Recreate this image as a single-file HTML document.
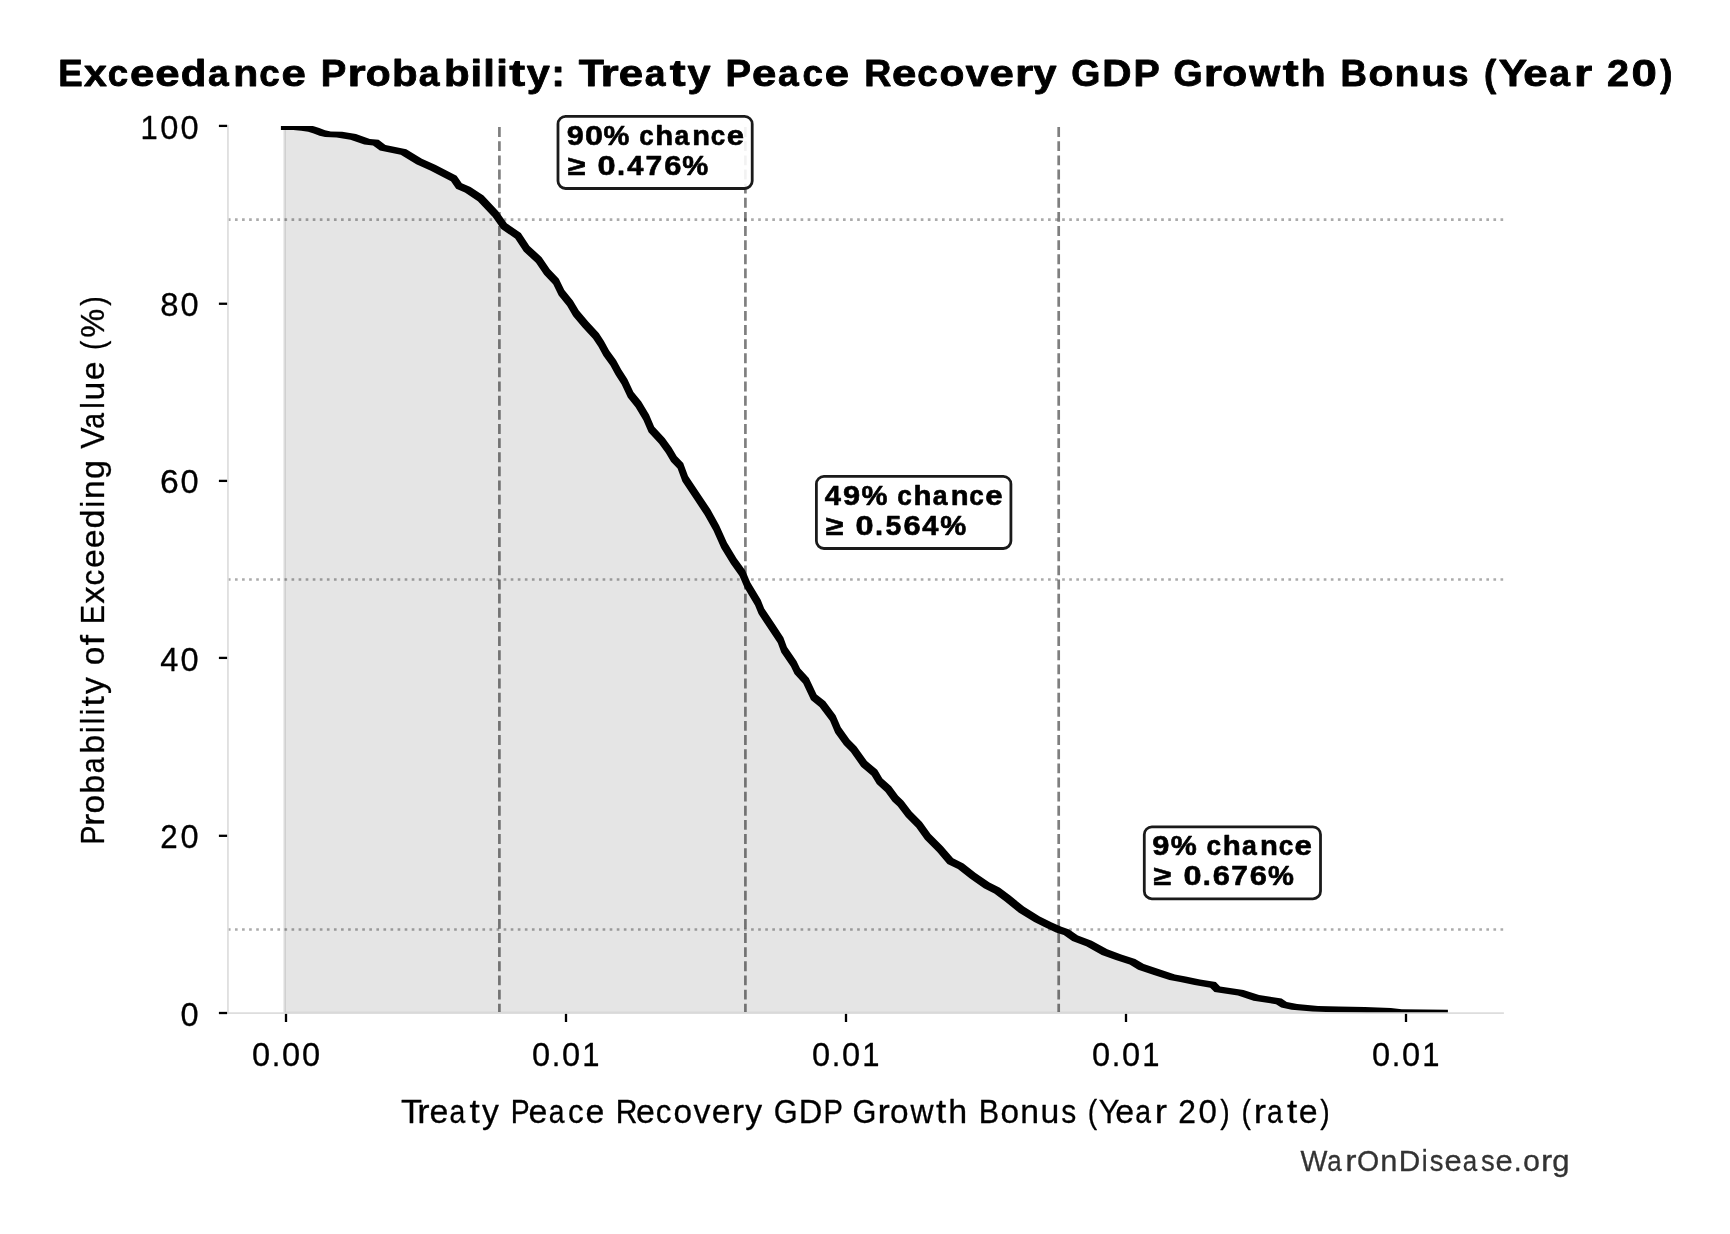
<!DOCTYPE html>
<html lang="en">
<head>
<meta charset="utf-8">
<title>Exceedance Probability: Treaty Peace Recovery GDP Growth Bonus (Year 20)</title>
<style>
html,body{margin:0;padding:0;background:#fff;}
body{width:1730px;height:1234px;overflow:hidden;}
svg{display:block;will-change:transform;}
text{font-family:"Liberation Sans",sans-serif;}
</style>
</head>
<body>
<svg width="1730" height="1234" viewBox="0 0 1730 1234">
<rect x="0" y="0" width="1730" height="1234" fill="#ffffff"/>
<defs><clipPath id="ax"><rect x="227" y="126.0" width="1277" height="887.1"/></clipPath></defs>

<g clip-path="url(#ax)">
<path d="M284.6,1013.1 L284.6,127.1 L304.0,127.9 L311.0,129.0 L316.5,130.8 L322.3,133.0 L327.9,134.3 L339.4,134.6 L353.2,136.9 L367.1,141.7 L375.8,142.6 L382.7,147.8 L403.5,152.0 L419.1,161.5 L433.0,167.7 L453.8,178.5 L459.0,186.0 L467.7,189.8 L480.7,198.4 L495.4,214.0 L504.1,226.2 L518.0,235.7 L526.6,248.7 L538.8,260.0 L547.0,272.0 L556.0,281.5 L561.5,292.7 L570.0,303.2 L576.0,313.4 L585.5,324.6 L595.9,335.9 L601.1,343.7 L606.3,353.2 L613.2,362.8 L618.4,372.3 L624.5,381.8 L630.6,394.8 L638.4,404.4 L646.2,417.4 L651.4,429.5 L661.8,440.8 L668.7,450.2 L673.9,459.0 L680.4,465.8 L685.2,478.8 L697.2,496.8 L707.6,512.4 L716.3,528.0 L724.1,545.4 L733.6,561.0 L742.3,573.1 L747.5,585.3 L757.9,602.6 L761.4,611.3 L771.8,626.9 L780.6,640.3 L784.1,649.8 L793.7,663.7 L797.3,671.2 L806.0,680.7 L813.8,697.2 L822.4,704.1 L832.8,718.0 L838.0,730.1 L846.7,742.2 L853.6,749.2 L864.0,763.9 L874.4,772.6 L879.6,781.3 L888.3,789.1 L895.3,798.6 L900.5,803.5 L908.7,814.3 L919.1,824.7 L927.7,836.8 L939.9,849.0 L950.3,861.1 L960.7,866.3 L972.8,875.8 L986.7,885.4 L997.1,890.6 L1007.5,898.4 L1021.4,909.6 L1037.0,919.2 L1049.1,925.3 L1058.7,929.6 L1066.5,932.2 L1075.1,938.3 L1089.0,943.5 L1104.6,952.1 L1118.5,957.3 L1132.4,961.7 L1141.0,966.9 L1156.6,972.1 L1172.2,977.3 L1183.0,979.3 L1197.3,982.3 L1213.0,984.9 L1217.3,989.2 L1240.7,992.7 L1256.3,997.9 L1278.8,1001.4 L1284.0,1004.8 L1294.4,1006.9 L1315.3,1008.7 L1336.0,1009.4 L1362.0,1009.9 L1388.0,1010.9 L1399.0,1012.0 L1445.1,1012.6 L1445.1,1013.1 Z" fill="#000" fill-opacity="0.1"/>
<path d="M284.6,1013.1 L284.6,127.1 L304.0,127.9 L311.0,129.0 L316.5,130.8 L322.3,133.0 L327.9,134.3 L339.4,134.6 L353.2,136.9 L367.1,141.7 L375.8,142.6 L382.7,147.8 L403.5,152.0 L419.1,161.5 L433.0,167.7 L453.8,178.5 L459.0,186.0 L467.7,189.8 L480.7,198.4 L495.4,214.0 L504.1,226.2 L518.0,235.7 L526.6,248.7 L538.8,260.0 L547.0,272.0 L556.0,281.5 L561.5,292.7 L570.0,303.2 L576.0,313.4 L585.5,324.6 L595.9,335.9 L601.1,343.7 L606.3,353.2 L613.2,362.8 L618.4,372.3 L624.5,381.8 L630.6,394.8 L638.4,404.4 L646.2,417.4 L651.4,429.5 L661.8,440.8 L668.7,450.2 L673.9,459.0 L680.4,465.8 L685.2,478.8 L697.2,496.8 L707.6,512.4 L716.3,528.0 L724.1,545.4 L733.6,561.0 L742.3,573.1 L747.5,585.3 L757.9,602.6 L761.4,611.3 L771.8,626.9 L780.6,640.3 L784.1,649.8 L793.7,663.7 L797.3,671.2 L806.0,680.7 L813.8,697.2 L822.4,704.1 L832.8,718.0 L838.0,730.1 L846.7,742.2 L853.6,749.2 L864.0,763.9 L874.4,772.6 L879.6,781.3 L888.3,789.1 L895.3,798.6 L900.5,803.5 L908.7,814.3 L919.1,824.7 L927.7,836.8 L939.9,849.0 L950.3,861.1 L960.7,866.3 L972.8,875.8 L986.7,885.4 L997.1,890.6 L1007.5,898.4 L1021.4,909.6 L1037.0,919.2 L1049.1,925.3 L1058.7,929.6 L1066.5,932.2 L1075.1,938.3 L1089.0,943.5 L1104.6,952.1 L1118.5,957.3 L1132.4,961.7 L1141.0,966.9 L1156.6,972.1 L1172.2,977.3 L1183.0,979.3 L1197.3,982.3 L1213.0,984.9 L1217.3,989.2 L1240.7,992.7 L1256.3,997.9 L1278.8,1001.4 L1284.0,1004.8 L1294.4,1006.9 L1315.3,1008.7 L1336.0,1009.4 L1362.0,1009.9 L1388.0,1010.9 L1399.0,1012.0 L1445.1,1012.6 L1445.1,1013.1 Z" fill="none" stroke="#000" stroke-opacity="0.1" stroke-width="2.6" stroke-linejoin="miter"/>
<line x1="227.9" y1="219.6" x2="1503.6" y2="219.6" stroke="#000" stroke-opacity="0.33" stroke-width="2.7" stroke-dasharray="2.67 4.40"/>
<line x1="227.9" y1="579.5" x2="1503.6" y2="579.5" stroke="#000" stroke-opacity="0.33" stroke-width="2.7" stroke-dasharray="2.67 4.40"/>
<line x1="227.9" y1="929.5" x2="1503.6" y2="929.5" stroke="#000" stroke-opacity="0.33" stroke-width="2.7" stroke-dasharray="2.67 4.40"/>
<line x1="499.4" y1="127.1" x2="499.4" y2="1011.9" stroke="#000" stroke-opacity="0.5" stroke-width="2.7" stroke-dasharray="9.87 4.27"/>
<line x1="745.4" y1="127.1" x2="745.4" y2="1011.9" stroke="#000" stroke-opacity="0.5" stroke-width="2.7" stroke-dasharray="9.87 4.27"/>
<line x1="1058.7" y1="127.1" x2="1058.7" y2="1011.9" stroke="#000" stroke-opacity="0.5" stroke-width="2.7" stroke-dasharray="9.87 4.27"/>
<path d="M280.9,124.3 L286.5,124.3 L298.8,124.3 L306.8,125.1 L313.8,126.2 L319.3,128.0 L325.1,130.2 L330.7,131.5 L342.2,131.8 L356.0,134.1 L369.9,138.9 L378.6,139.8 L385.5,145.0 L406.3,149.2 L421.9,158.7 L435.8,164.9 L456.6,175.7 L461.8,183.2 L470.5,187.0 L483.5,195.6 L498.2,211.2 L506.9,223.4 L520.8,232.9 L529.4,245.9 L541.6,257.2 L549.8,269.2 L558.8,278.7 L564.3,289.9 L572.8,300.4 L578.8,310.6 L588.3,321.8 L598.7,333.1 L603.9,340.9 L609.1,350.4 L616.0,360.0 L621.2,369.5 L627.3,379.0 L633.4,392.0 L641.2,401.6 L649.0,414.6 L654.2,426.7 L664.6,438.0 L671.5,447.4 L676.7,456.2 L683.2,463.0 L688.0,476.0 L700.0,494.0 L710.4,509.6 L719.1,525.2 L726.9,542.6 L736.4,558.2 L745.1,570.3 L750.3,582.5 L760.7,599.8 L764.2,608.5 L774.6,624.1 L783.4,637.5 L786.9,647.0 L796.5,660.9 L800.1,668.4 L808.8,677.9 L816.6,694.4 L825.2,701.3 L835.6,715.2 L840.8,727.3 L849.5,739.4 L856.4,746.4 L866.8,761.1 L877.2,769.8 L882.4,778.5 L891.1,786.3 L898.1,795.8 L903.3,800.7 L911.5,811.5 L921.9,821.9 L930.5,834.0 L942.7,846.2 L953.1,858.3 L963.5,863.5 L975.6,873.0 L989.5,882.6 L999.9,887.8 L1010.3,895.6 L1024.2,906.8 L1039.8,916.4 L1051.9,922.5 L1061.5,926.8 L1069.3,929.4 L1077.9,935.5 L1091.8,940.7 L1107.4,949.3 L1121.3,954.5 L1135.2,958.9 L1143.8,964.1 L1159.4,969.3 L1175.0,974.5 L1185.8,976.5 L1200.1,979.5 L1215.8,982.1 L1220.1,986.4 L1243.5,989.9 L1259.1,995.1 L1281.6,998.6 L1286.8,1002.0 L1297.2,1004.1 L1318.1,1005.9 L1338.8,1006.6 L1364.8,1007.1 L1390.8,1008.1 L1401.8,1009.2 L1447.9,1009.8 L1447.9,1015.4 L1442.3,1015.4 L1396.2,1014.8 L1385.2,1013.7 L1359.2,1012.7 L1333.2,1012.2 L1312.5,1011.5 L1291.6,1009.7 L1281.2,1007.6 L1276.0,1004.2 L1253.5,1000.7 L1237.9,995.5 L1214.5,992.0 L1210.2,987.7 L1194.5,985.1 L1180.2,982.1 L1169.4,980.1 L1153.8,974.9 L1138.2,969.7 L1129.6,964.5 L1115.7,960.1 L1101.8,954.9 L1086.2,946.3 L1072.3,941.1 L1063.7,935.0 L1055.9,932.4 L1046.3,928.1 L1034.2,922.0 L1018.6,912.4 L1004.7,901.2 L994.3,893.4 L983.9,888.2 L970.0,878.6 L957.9,869.1 L947.5,863.9 L937.1,851.8 L924.9,839.6 L916.3,827.5 L905.9,817.1 L897.7,806.3 L892.5,801.4 L885.5,791.9 L876.8,784.1 L871.6,775.4 L861.2,766.7 L850.8,752.0 L843.9,745.0 L835.2,732.9 L830.0,720.8 L819.6,706.9 L811.0,700.0 L803.2,683.5 L794.5,674.0 L790.9,666.5 L781.3,652.6 L777.8,643.1 L769.0,629.7 L758.6,614.1 L755.1,605.4 L744.7,588.1 L739.5,575.9 L730.8,563.8 L721.3,548.2 L713.5,530.8 L704.8,515.2 L694.4,499.6 L682.4,481.6 L677.6,468.6 L671.1,461.8 L665.9,453.0 L659.0,443.6 L648.6,432.3 L643.4,420.2 L635.6,407.2 L627.8,397.6 L621.7,384.6 L615.6,375.1 L610.4,365.6 L603.5,356.0 L598.3,346.5 L593.1,338.7 L582.7,327.4 L573.2,316.2 L567.2,306.0 L558.7,295.5 L553.2,284.3 L544.2,274.8 L536.0,262.8 L523.8,251.5 L515.2,238.5 L501.3,229.0 L492.6,216.8 L477.9,201.2 L464.9,192.6 L456.2,188.8 L451.0,181.3 L430.2,170.5 L416.3,164.3 L400.7,154.8 L379.9,150.6 L373.0,145.4 L364.3,144.5 L350.4,139.7 L336.6,137.4 L325.1,137.1 L319.5,135.8 L313.7,133.6 L308.2,131.8 L301.2,130.7 L293.2,129.9 L280.9,129.9 Z" fill="#000"/>
</g>
<line x1="227.95" y1="124.8" x2="227.95" y2="1013.9" stroke="#dddddd" stroke-width="1.7"/>
<line x1="227.1" y1="1013.1" x2="1503.9" y2="1013.1" stroke="#dddddd" stroke-width="1.7"/>
<line x1="218.9" y1="125.9" x2="227.1" y2="125.9" stroke="#000" stroke-width="2.3"/>
<text y="139.0" font-size="33.2" font-weight="normal" fill="#000" stroke="#000" stroke-width="0.3" stroke-linejoin="round" xml:space="preserve"><tspan x="140.62" textLength="17.25" lengthAdjust="spacingAndGlyphs">1</tspan><tspan x="160.36" textLength="18.12" lengthAdjust="spacingAndGlyphs">0</tspan><tspan x="180.40" textLength="18.12" lengthAdjust="spacingAndGlyphs">0</tspan></text>
<line x1="218.9" y1="303.75" x2="227.1" y2="303.75" stroke="#000" stroke-width="2.3"/>
<text y="316.0" font-size="33.2" font-weight="normal" fill="#000" stroke="#000" stroke-width="0.3" stroke-linejoin="round" xml:space="preserve"><tspan x="160.27" textLength="18.31" lengthAdjust="spacingAndGlyphs">8</tspan><tspan x="180.40" textLength="18.12" lengthAdjust="spacingAndGlyphs">0</tspan></text>
<line x1="218.9" y1="480.9" x2="227.1" y2="480.9" stroke="#000" stroke-width="2.3"/>
<text y="493.0" font-size="33.2" font-weight="normal" fill="#000" stroke="#000" stroke-width="0.3" stroke-linejoin="round" xml:space="preserve"><tspan x="160.05" textLength="18.75" lengthAdjust="spacingAndGlyphs">6</tspan><tspan x="180.40" textLength="18.12" lengthAdjust="spacingAndGlyphs">0</tspan></text>
<line x1="218.9" y1="657.9" x2="227.1" y2="657.9" stroke="#000" stroke-width="2.3"/>
<text y="671.0" font-size="33.2" font-weight="normal" fill="#000" stroke="#000" stroke-width="0.3" stroke-linejoin="round" xml:space="preserve"><tspan x="160.35" textLength="18.14" lengthAdjust="spacingAndGlyphs">4</tspan><tspan x="180.40" textLength="18.12" lengthAdjust="spacingAndGlyphs">0</tspan></text>
<line x1="218.9" y1="835.8" x2="227.1" y2="835.8" stroke="#000" stroke-width="2.3"/>
<text y="848.0" font-size="33.2" font-weight="normal" fill="#000" stroke="#000" stroke-width="0.3" stroke-linejoin="round" xml:space="preserve"><tspan x="160.29" textLength="17.43" lengthAdjust="spacingAndGlyphs">2</tspan><tspan x="180.40" textLength="18.12" lengthAdjust="spacingAndGlyphs">0</tspan></text>
<line x1="218.9" y1="1013.0" x2="227.1" y2="1013.0" stroke="#000" stroke-width="2.3"/>
<text y="1026.0" font-size="33.2" font-weight="normal" fill="#000" stroke="#000" stroke-width="0.3" stroke-linejoin="round" xml:space="preserve"><tspan x="180.40" textLength="18.12" lengthAdjust="spacingAndGlyphs">0</tspan></text>
<line x1="286.0" y1="1013.9" x2="286.0" y2="1022.0" stroke="#000" stroke-width="2.3"/>
<text y="1065.7" font-size="33.2" font-weight="normal" fill="#000" stroke="#000" stroke-width="0.3" stroke-linejoin="round" xml:space="preserve"><tspan x="251.89" textLength="18.12" lengthAdjust="spacingAndGlyphs">0</tspan><tspan x="271.67" textLength="8.59" lengthAdjust="spacingAndGlyphs">.</tspan><tspan x="281.94" textLength="18.12" lengthAdjust="spacingAndGlyphs">0</tspan><tspan x="301.98" textLength="18.12" lengthAdjust="spacingAndGlyphs">0</tspan></text>
<line x1="566.0" y1="1013.9" x2="566.0" y2="1022.0" stroke="#000" stroke-width="2.3"/>
<text y="1065.7" font-size="33.2" font-weight="normal" fill="#000" stroke="#000" stroke-width="0.3" stroke-linejoin="round" xml:space="preserve"><tspan x="531.89" textLength="18.12" lengthAdjust="spacingAndGlyphs">0</tspan><tspan x="551.67" textLength="8.59" lengthAdjust="spacingAndGlyphs">.</tspan><tspan x="561.94" textLength="18.12" lengthAdjust="spacingAndGlyphs">0</tspan><tspan x="582.28" textLength="17.25" lengthAdjust="spacingAndGlyphs">1</tspan></text>
<line x1="846.0" y1="1013.9" x2="846.0" y2="1022.0" stroke="#000" stroke-width="2.3"/>
<text y="1065.7" font-size="33.2" font-weight="normal" fill="#000" stroke="#000" stroke-width="0.3" stroke-linejoin="round" xml:space="preserve"><tspan x="811.89" textLength="18.12" lengthAdjust="spacingAndGlyphs">0</tspan><tspan x="831.67" textLength="8.59" lengthAdjust="spacingAndGlyphs">.</tspan><tspan x="841.94" textLength="18.12" lengthAdjust="spacingAndGlyphs">0</tspan><tspan x="862.28" textLength="17.25" lengthAdjust="spacingAndGlyphs">1</tspan></text>
<line x1="1126.0" y1="1013.9" x2="1126.0" y2="1022.0" stroke="#000" stroke-width="2.3"/>
<text y="1065.7" font-size="33.2" font-weight="normal" fill="#000" stroke="#000" stroke-width="0.3" stroke-linejoin="round" xml:space="preserve"><tspan x="1091.89" textLength="18.12" lengthAdjust="spacingAndGlyphs">0</tspan><tspan x="1111.67" textLength="8.59" lengthAdjust="spacingAndGlyphs">.</tspan><tspan x="1121.94" textLength="18.12" lengthAdjust="spacingAndGlyphs">0</tspan><tspan x="1142.28" textLength="17.25" lengthAdjust="spacingAndGlyphs">1</tspan></text>
<line x1="1406.0" y1="1013.9" x2="1406.0" y2="1022.0" stroke="#000" stroke-width="2.3"/>
<text y="1065.7" font-size="33.2" font-weight="normal" fill="#000" stroke="#000" stroke-width="0.3" stroke-linejoin="round" xml:space="preserve"><tspan x="1371.89" textLength="18.12" lengthAdjust="spacingAndGlyphs">0</tspan><tspan x="1391.67" textLength="8.59" lengthAdjust="spacingAndGlyphs">.</tspan><tspan x="1401.94" textLength="18.12" lengthAdjust="spacingAndGlyphs">0</tspan><tspan x="1422.28" textLength="17.25" lengthAdjust="spacingAndGlyphs">1</tspan></text>
<text y="86.25" font-size="37.0" font-weight="bold" fill="#000" stroke="#000" stroke-width="0.8" stroke-linejoin="round" xml:space="preserve"><tspan x="58.25" textLength="24.45" lengthAdjust="spacingAndGlyphs">E</tspan><tspan x="84.10" textLength="22.77" lengthAdjust="spacingAndGlyphs">x</tspan><tspan x="107.80" textLength="20.39" lengthAdjust="spacingAndGlyphs">c</tspan><tspan x="130.00" textLength="24.36" lengthAdjust="spacingAndGlyphs">e</tspan><tspan x="155.36" textLength="24.36" lengthAdjust="spacingAndGlyphs">e</tspan><tspan x="180.79" textLength="25.64" lengthAdjust="spacingAndGlyphs">d</tspan><tspan x="208.11" textLength="20.74" lengthAdjust="spacingAndGlyphs">a</tspan><tspan x="233.28" textLength="25.00" lengthAdjust="spacingAndGlyphs">n</tspan><tspan x="259.32" textLength="20.39" lengthAdjust="spacingAndGlyphs">c</tspan><tspan x="281.52" textLength="24.36" lengthAdjust="spacingAndGlyphs">e</tspan> <tspan x="320.88" textLength="25.51" lengthAdjust="spacingAndGlyphs">P</tspan><tspan x="347.48" textLength="18.18" lengthAdjust="spacingAndGlyphs">r</tspan><tspan x="365.88" textLength="24.86" lengthAdjust="spacingAndGlyphs">o</tspan><tspan x="391.93" textLength="25.64" lengthAdjust="spacingAndGlyphs">b</tspan><tspan x="418.84" textLength="20.74" lengthAdjust="spacingAndGlyphs">a</tspan><tspan x="443.93" textLength="25.64" lengthAdjust="spacingAndGlyphs">b</tspan><tspan x="470.55" textLength="11.62" lengthAdjust="spacingAndGlyphs">i</tspan><tspan x="483.37" textLength="11.62" lengthAdjust="spacingAndGlyphs">l</tspan><tspan x="496.19" textLength="11.62" lengthAdjust="spacingAndGlyphs">i</tspan><tspan x="509.19" textLength="15.90" lengthAdjust="spacingAndGlyphs">t</tspan><tspan x="526.80" textLength="22.99" lengthAdjust="spacingAndGlyphs">y</tspan><tspan x="551.26" textLength="13.72" lengthAdjust="spacingAndGlyphs">:</tspan> <tspan x="578.73" textLength="25.23" lengthAdjust="spacingAndGlyphs">T</tspan><tspan x="600.48" textLength="18.18" lengthAdjust="spacingAndGlyphs">r</tspan><tspan x="618.75" textLength="24.36" lengthAdjust="spacingAndGlyphs">e</tspan><tspan x="644.74" textLength="20.74" lengthAdjust="spacingAndGlyphs">a</tspan><tspan x="669.86" textLength="15.90" lengthAdjust="spacingAndGlyphs">t</tspan><tspan x="687.47" textLength="22.99" lengthAdjust="spacingAndGlyphs">y</tspan> <tspan x="725.61" textLength="25.51" lengthAdjust="spacingAndGlyphs">P</tspan><tspan x="752.04" textLength="24.36" lengthAdjust="spacingAndGlyphs">e</tspan><tspan x="778.02" textLength="20.74" lengthAdjust="spacingAndGlyphs">a</tspan><tspan x="802.60" textLength="20.39" lengthAdjust="spacingAndGlyphs">c</tspan><tspan x="824.80" textLength="24.36" lengthAdjust="spacingAndGlyphs">e</tspan> <tspan x="864.21" textLength="27.09" lengthAdjust="spacingAndGlyphs">R</tspan><tspan x="891.98" textLength="24.36" lengthAdjust="spacingAndGlyphs">e</tspan><tspan x="917.31" textLength="20.39" lengthAdjust="spacingAndGlyphs">c</tspan><tspan x="939.64" textLength="24.86" lengthAdjust="spacingAndGlyphs">o</tspan><tspan x="965.72" textLength="22.80" lengthAdjust="spacingAndGlyphs">v</tspan><tspan x="989.58" textLength="24.36" lengthAdjust="spacingAndGlyphs">e</tspan><tspan x="1015.11" textLength="18.18" lengthAdjust="spacingAndGlyphs">r</tspan><tspan x="1033.63" textLength="22.99" lengthAdjust="spacingAndGlyphs">y</tspan> <tspan x="1071.22" textLength="29.13" lengthAdjust="spacingAndGlyphs">G</tspan><tspan x="1102.31" textLength="29.27" lengthAdjust="spacingAndGlyphs">D</tspan><tspan x="1133.50" textLength="25.51" lengthAdjust="spacingAndGlyphs">P</tspan> <tspan x="1173.38" textLength="29.13" lengthAdjust="spacingAndGlyphs">G</tspan><tspan x="1203.82" textLength="18.18" lengthAdjust="spacingAndGlyphs">r</tspan><tspan x="1222.21" textLength="24.86" lengthAdjust="spacingAndGlyphs">o</tspan><tspan x="1249.32" textLength="30.94" lengthAdjust="spacingAndGlyphs">w</tspan><tspan x="1282.84" textLength="15.90" lengthAdjust="spacingAndGlyphs">t</tspan><tspan x="1300.57" textLength="25.20" lengthAdjust="spacingAndGlyphs">h</tspan> <tspan x="1340.58" textLength="26.48" lengthAdjust="spacingAndGlyphs">B</tspan><tspan x="1368.48" textLength="24.86" lengthAdjust="spacingAndGlyphs">o</tspan><tspan x="1394.60" textLength="25.00" lengthAdjust="spacingAndGlyphs">n</tspan><tspan x="1421.16" textLength="25.00" lengthAdjust="spacingAndGlyphs">u</tspan><tspan x="1448.04" textLength="20.57" lengthAdjust="spacingAndGlyphs">s</tspan> <tspan x="1483.94" textLength="12.21" lengthAdjust="spacingAndGlyphs">(</tspan><tspan x="1498.68" textLength="28.43" lengthAdjust="spacingAndGlyphs">Y</tspan><tspan x="1523.31" textLength="24.36" lengthAdjust="spacingAndGlyphs">e</tspan><tspan x="1549.30" textLength="20.74" lengthAdjust="spacingAndGlyphs">a</tspan><tspan x="1574.08" textLength="18.18" lengthAdjust="spacingAndGlyphs">r</tspan> <tspan x="1607.07" textLength="21.96" lengthAdjust="spacingAndGlyphs">2</tspan><tspan x="1631.49" textLength="25.31" lengthAdjust="spacingAndGlyphs">0</tspan><tspan x="1660.35" textLength="12.21" lengthAdjust="spacingAndGlyphs">)</tspan></text>
<text y="1122.9" font-size="33.6" font-weight="normal" fill="#000" stroke="#000" stroke-width="0.3" stroke-linejoin="round" xml:space="preserve"><tspan x="401.08" textLength="20.98" lengthAdjust="spacingAndGlyphs">T</tspan><tspan x="417.34" textLength="12.29" lengthAdjust="spacingAndGlyphs">r</tspan><tspan x="429.55" textLength="18.86" lengthAdjust="spacingAndGlyphs">e</tspan><tspan x="449.58" textLength="15.76" lengthAdjust="spacingAndGlyphs">a</tspan><tspan x="469.40" textLength="10.25" lengthAdjust="spacingAndGlyphs">t</tspan><tspan x="481.91" textLength="16.87" lengthAdjust="spacingAndGlyphs">y</tspan> <tspan x="510.78" textLength="18.90" lengthAdjust="spacingAndGlyphs">P</tspan><tspan x="528.60" textLength="18.86" lengthAdjust="spacingAndGlyphs">e</tspan><tspan x="548.63" textLength="15.76" lengthAdjust="spacingAndGlyphs">a</tspan><tspan x="567.98" textLength="15.70" lengthAdjust="spacingAndGlyphs">c</tspan><tspan x="585.46" textLength="18.86" lengthAdjust="spacingAndGlyphs">e</tspan> <tspan x="615.65" textLength="21.72" lengthAdjust="spacingAndGlyphs">R</tspan><tspan x="636.08" textLength="18.86" lengthAdjust="spacingAndGlyphs">e</tspan><tspan x="655.87" textLength="15.70" lengthAdjust="spacingAndGlyphs">c</tspan><tspan x="673.38" textLength="18.56" lengthAdjust="spacingAndGlyphs">o</tspan><tspan x="693.42" textLength="16.95" lengthAdjust="spacingAndGlyphs">v</tspan><tspan x="711.84" textLength="18.86" lengthAdjust="spacingAndGlyphs">e</tspan><tspan x="731.75" textLength="12.29" lengthAdjust="spacingAndGlyphs">r</tspan><tspan x="745.21" textLength="16.87" lengthAdjust="spacingAndGlyphs">y</tspan> <tspan x="773.68" textLength="23.90" lengthAdjust="spacingAndGlyphs">G</tspan><tspan x="798.68" textLength="23.53" lengthAdjust="spacingAndGlyphs">D</tspan><tspan x="823.49" textLength="18.90" lengthAdjust="spacingAndGlyphs">P</tspan> <tspan x="852.54" textLength="23.90" lengthAdjust="spacingAndGlyphs">G</tspan><tspan x="877.64" textLength="12.29" lengthAdjust="spacingAndGlyphs">r</tspan><tspan x="889.88" textLength="18.56" lengthAdjust="spacingAndGlyphs">o</tspan><tspan x="910.47" textLength="23.05" lengthAdjust="spacingAndGlyphs">w</tspan><tspan x="936.14" textLength="10.25" lengthAdjust="spacingAndGlyphs">t</tspan><tspan x="948.33" textLength="18.91" lengthAdjust="spacingAndGlyphs">h</tspan> <tspan x="978.85" textLength="20.35" lengthAdjust="spacingAndGlyphs">B</tspan><tspan x="1000.52" textLength="18.56" lengthAdjust="spacingAndGlyphs">o</tspan><tspan x="1020.39" textLength="18.78" lengthAdjust="spacingAndGlyphs">n</tspan><tspan x="1040.52" textLength="18.78" lengthAdjust="spacingAndGlyphs">u</tspan><tspan x="1061.16" textLength="14.98" lengthAdjust="spacingAndGlyphs">s</tspan> <tspan x="1087.76" textLength="9.43" lengthAdjust="spacingAndGlyphs">(</tspan><tspan x="1098.82" textLength="20.73" lengthAdjust="spacingAndGlyphs">Y</tspan><tspan x="1115.18" textLength="18.86" lengthAdjust="spacingAndGlyphs">e</tspan><tspan x="1135.21" textLength="15.76" lengthAdjust="spacingAndGlyphs">a</tspan><tspan x="1154.69" textLength="12.29" lengthAdjust="spacingAndGlyphs">r</tspan> <tspan x="1178.19" textLength="17.71" lengthAdjust="spacingAndGlyphs">2</tspan><tspan x="1198.61" textLength="18.40" lengthAdjust="spacingAndGlyphs">0</tspan><tspan x="1220.21" textLength="9.43" lengthAdjust="spacingAndGlyphs">)</tspan> <tspan x="1241.45" textLength="9.43" lengthAdjust="spacingAndGlyphs">(</tspan><tspan x="1253.82" textLength="12.29" lengthAdjust="spacingAndGlyphs">r</tspan><tspan x="1267.09" textLength="15.76" lengthAdjust="spacingAndGlyphs">a</tspan><tspan x="1286.90" textLength="10.25" lengthAdjust="spacingAndGlyphs">t</tspan><tspan x="1298.87" textLength="18.86" lengthAdjust="spacingAndGlyphs">e</tspan><tspan x="1320.29" textLength="9.43" lengthAdjust="spacingAndGlyphs">)</tspan></text>
<g transform="translate(103.5,842.2) rotate(-90)"><text y="0" font-size="33.6" font-weight="normal" fill="#000" stroke="#000" stroke-width="0.3" stroke-linejoin="round" xml:space="preserve"><tspan x="-2.34" textLength="18.93" lengthAdjust="spacingAndGlyphs">P</tspan><tspan x="16.32" textLength="12.31" lengthAdjust="spacingAndGlyphs">r</tspan><tspan x="28.59" textLength="18.59" lengthAdjust="spacingAndGlyphs">o</tspan><tspan x="48.53" textLength="19.01" lengthAdjust="spacingAndGlyphs">b</tspan><tspan x="68.84" textLength="15.78" lengthAdjust="spacingAndGlyphs">a</tspan><tspan x="88.50" textLength="19.01" lengthAdjust="spacingAndGlyphs">b</tspan><tspan x="109.18" textLength="6.52" lengthAdjust="spacingAndGlyphs">i</tspan><tspan x="118.07" textLength="6.52" lengthAdjust="spacingAndGlyphs">l</tspan><tspan x="126.98" textLength="6.52" lengthAdjust="spacingAndGlyphs">i</tspan><tspan x="135.73" textLength="10.27" lengthAdjust="spacingAndGlyphs">t</tspan><tspan x="148.26" textLength="16.90" lengthAdjust="spacingAndGlyphs">y</tspan> <tspan x="176.89" textLength="18.59" lengthAdjust="spacingAndGlyphs">o</tspan><tspan x="196.87" textLength="10.27" lengthAdjust="spacingAndGlyphs">f</tspan> <tspan x="218.09" textLength="18.93" lengthAdjust="spacingAndGlyphs">E</tspan><tspan x="238.36" textLength="17.45" lengthAdjust="spacingAndGlyphs">x</tspan><tspan x="256.66" textLength="15.72" lengthAdjust="spacingAndGlyphs">c</tspan><tspan x="274.16" textLength="18.89" lengthAdjust="spacingAndGlyphs">e</tspan><tspan x="293.87" textLength="18.89" lengthAdjust="spacingAndGlyphs">e</tspan><tspan x="313.59" textLength="18.99" lengthAdjust="spacingAndGlyphs">d</tspan><tspan x="334.65" textLength="6.52" lengthAdjust="spacingAndGlyphs">i</tspan><tspan x="343.16" textLength="18.82" lengthAdjust="spacingAndGlyphs">n</tspan><tspan x="363.13" textLength="18.99" lengthAdjust="spacingAndGlyphs">g</tspan> <tspan x="393.42" textLength="21.38" lengthAdjust="spacingAndGlyphs">V</tspan><tspan x="413.42" textLength="15.78" lengthAdjust="spacingAndGlyphs">a</tspan><tspan x="433.41" textLength="6.52" lengthAdjust="spacingAndGlyphs">l</tspan><tspan x="441.80" textLength="18.82" lengthAdjust="spacingAndGlyphs">u</tspan><tspan x="461.90" textLength="18.89" lengthAdjust="spacingAndGlyphs">e</tspan> <tspan x="492.14" textLength="9.45" lengthAdjust="spacingAndGlyphs">(</tspan><tspan x="504.57" textLength="28.92" lengthAdjust="spacingAndGlyphs">%</tspan><tspan x="536.48" textLength="9.45" lengthAdjust="spacingAndGlyphs">)</tspan></text></g>
<text y="1171.0" font-size="29.7" font-weight="normal" fill="#333333" stroke="#333333" stroke-width="0.3" stroke-linejoin="round" xml:space="preserve"><tspan x="1300.52" textLength="26.92" lengthAdjust="spacingAndGlyphs">W</tspan><tspan x="1327.34" textLength="14.41" lengthAdjust="spacingAndGlyphs">a</tspan><tspan x="1345.17" textLength="11.24" lengthAdjust="spacingAndGlyphs">r</tspan><tspan x="1356.98" textLength="22.15" lengthAdjust="spacingAndGlyphs">O</tspan><tspan x="1380.33" textLength="17.15" lengthAdjust="spacingAndGlyphs">n</tspan><tspan x="1398.69" textLength="21.49" lengthAdjust="spacingAndGlyphs">D</tspan><tspan x="1421.77" textLength="5.89" lengthAdjust="spacingAndGlyphs">i</tspan><tspan x="1429.74" textLength="13.68" lengthAdjust="spacingAndGlyphs">s</tspan><tspan x="1444.46" textLength="17.22" lengthAdjust="spacingAndGlyphs">e</tspan><tspan x="1462.76" textLength="14.41" lengthAdjust="spacingAndGlyphs">a</tspan><tspan x="1480.91" textLength="13.68" lengthAdjust="spacingAndGlyphs">s</tspan><tspan x="1495.62" textLength="17.22" lengthAdjust="spacingAndGlyphs">e</tspan><tspan x="1513.85" textLength="7.92" lengthAdjust="spacingAndGlyphs">.</tspan><tspan x="1522.96" textLength="16.94" lengthAdjust="spacingAndGlyphs">o</tspan><tspan x="1541.03" textLength="11.24" lengthAdjust="spacingAndGlyphs">r</tspan><tspan x="1552.34" textLength="17.31" lengthAdjust="spacingAndGlyphs">g</tspan></text>
<rect x="557.99" y="116.39" width="194.22" height="72.12" rx="7.6" ry="7.6" fill="#fff" fill-opacity="0.9" stroke="#1a1a1a" stroke-width="2.78"/>
<text y="144.5" font-size="27.3" font-weight="bold" fill="#000" stroke="#000" stroke-width="0.6" stroke-linejoin="round" xml:space="preserve"><tspan x="566.74" textLength="17.03" lengthAdjust="spacingAndGlyphs">9</tspan><tspan x="584.93" textLength="17.97" lengthAdjust="spacingAndGlyphs">0</tspan><tspan x="603.58" textLength="25.85" lengthAdjust="spacingAndGlyphs">%</tspan> <tspan x="639.25" textLength="14.51" lengthAdjust="spacingAndGlyphs">c</tspan><tspan x="655.33" textLength="17.89" lengthAdjust="spacingAndGlyphs">h</tspan><tspan x="674.44" textLength="14.73" lengthAdjust="spacingAndGlyphs">a</tspan><tspan x="692.35" textLength="17.74" lengthAdjust="spacingAndGlyphs">n</tspan><tspan x="710.86" textLength="14.51" lengthAdjust="spacingAndGlyphs">c</tspan><tspan x="726.67" textLength="17.29" lengthAdjust="spacingAndGlyphs">e</tspan></text>
<text y="175.0" font-size="27.3" font-weight="bold" fill="#000" stroke="#000" stroke-width="0.6" stroke-linejoin="round" xml:space="preserve"><tspan x="567.93" textLength="17.69" lengthAdjust="spacingAndGlyphs">≥</tspan> <tspan x="597.60" textLength="18.08" lengthAdjust="spacingAndGlyphs">0</tspan><tspan x="616.98" textLength="8.08" lengthAdjust="spacingAndGlyphs">.</tspan><tspan x="627.15" textLength="16.18" lengthAdjust="spacingAndGlyphs">4</tspan><tspan x="645.50" textLength="16.71" lengthAdjust="spacingAndGlyphs">7</tspan><tspan x="664.15" textLength="17.17" lengthAdjust="spacingAndGlyphs">6</tspan><tspan x="682.37" textLength="26.00" lengthAdjust="spacingAndGlyphs">%</tspan></text>
<rect x="816.39" y="476.39" width="194.52" height="72.12" rx="7.6" ry="7.6" fill="#fff" fill-opacity="0.9" stroke="#1a1a1a" stroke-width="2.78"/>
<text y="504.5" font-size="27.3" font-weight="bold" fill="#000" stroke="#000" stroke-width="0.6" stroke-linejoin="round" xml:space="preserve"><tspan x="824.86" textLength="16.19" lengthAdjust="spacingAndGlyphs">4</tspan><tspan x="843.03" textLength="17.13" lengthAdjust="spacingAndGlyphs">9</tspan><tspan x="861.47" textLength="26.00" lengthAdjust="spacingAndGlyphs">%</tspan> <tspan x="897.35" textLength="14.59" lengthAdjust="spacingAndGlyphs">c</tspan><tspan x="913.52" textLength="18.00" lengthAdjust="spacingAndGlyphs">h</tspan><tspan x="932.74" textLength="14.82" lengthAdjust="spacingAndGlyphs">a</tspan><tspan x="950.75" textLength="17.85" lengthAdjust="spacingAndGlyphs">n</tspan><tspan x="969.37" textLength="14.59" lengthAdjust="spacingAndGlyphs">c</tspan><tspan x="985.27" textLength="17.40" lengthAdjust="spacingAndGlyphs">e</tspan></text>
<text y="535.0" font-size="27.3" font-weight="bold" fill="#000" stroke="#000" stroke-width="0.6" stroke-linejoin="round" xml:space="preserve"><tspan x="825.93" textLength="17.68" lengthAdjust="spacingAndGlyphs">≥</tspan> <tspan x="855.58" textLength="18.06" lengthAdjust="spacingAndGlyphs">0</tspan><tspan x="874.94" textLength="8.07" lengthAdjust="spacingAndGlyphs">.</tspan><tspan x="885.54" textLength="15.73" lengthAdjust="spacingAndGlyphs">5</tspan><tspan x="903.48" textLength="17.15" lengthAdjust="spacingAndGlyphs">6</tspan><tspan x="922.31" textLength="16.17" lengthAdjust="spacingAndGlyphs">4</tspan><tspan x="940.29" textLength="25.98" lengthAdjust="spacingAndGlyphs">%</tspan></text>
<rect x="1144.29" y="826.89" width="176.22" height="71.92" rx="7.6" ry="7.6" fill="#fff" fill-opacity="0.9" stroke="#1a1a1a" stroke-width="2.78"/>
<text y="854.5" font-size="27.3" font-weight="bold" fill="#000" stroke="#000" stroke-width="0.6" stroke-linejoin="round" xml:space="preserve"><tspan x="1152.23" textLength="17.15" lengthAdjust="spacingAndGlyphs">9</tspan><tspan x="1170.68" textLength="26.02" lengthAdjust="spacingAndGlyphs">%</tspan> <tspan x="1206.58" textLength="14.60" lengthAdjust="spacingAndGlyphs">c</tspan><tspan x="1222.76" textLength="18.01" lengthAdjust="spacingAndGlyphs">h</tspan><tspan x="1242.00" textLength="14.83" lengthAdjust="spacingAndGlyphs">a</tspan><tspan x="1260.02" textLength="17.86" lengthAdjust="spacingAndGlyphs">n</tspan><tspan x="1278.65" textLength="14.60" lengthAdjust="spacingAndGlyphs">c</tspan><tspan x="1294.56" textLength="17.41" lengthAdjust="spacingAndGlyphs">e</tspan></text>
<text y="885.0" font-size="27.3" font-weight="bold" fill="#000" stroke="#000" stroke-width="0.6" stroke-linejoin="round" xml:space="preserve"><tspan x="1153.83" textLength="17.64" lengthAdjust="spacingAndGlyphs">≥</tspan> <tspan x="1183.41" textLength="18.02" lengthAdjust="spacingAndGlyphs">0</tspan><tspan x="1202.74" textLength="8.05" lengthAdjust="spacingAndGlyphs">.</tspan><tspan x="1212.65" textLength="17.12" lengthAdjust="spacingAndGlyphs">6</tspan><tspan x="1231.18" textLength="16.66" lengthAdjust="spacingAndGlyphs">7</tspan><tspan x="1249.78" textLength="17.12" lengthAdjust="spacingAndGlyphs">6</tspan><tspan x="1267.95" textLength="25.92" lengthAdjust="spacingAndGlyphs">%</tspan></text>
</svg>
</body>
</html>
